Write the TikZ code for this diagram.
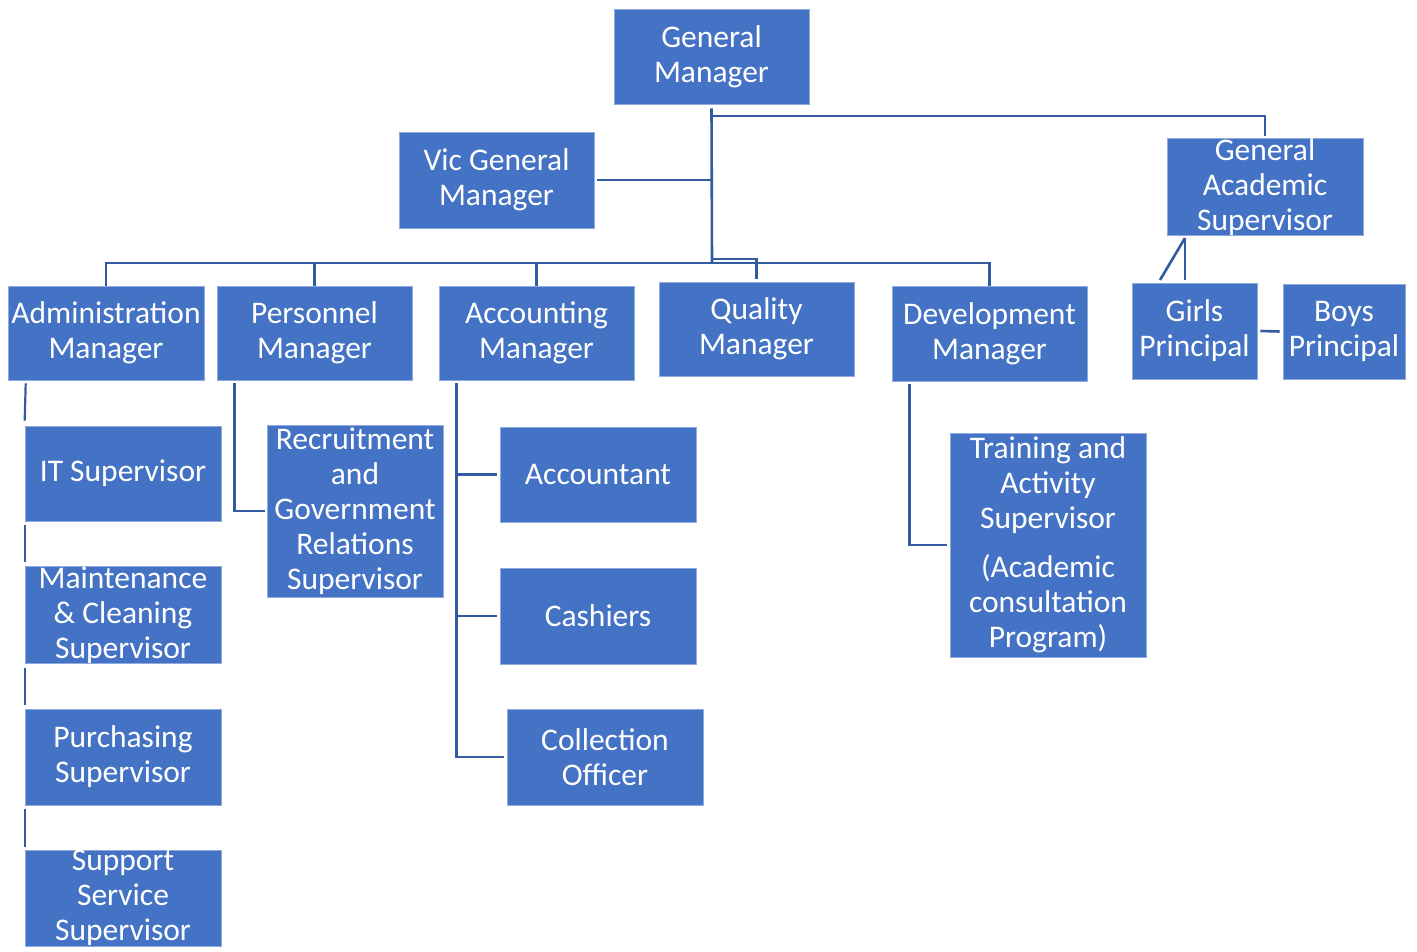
\documentclass[tikz,border=0pt]{standalone}
\usepackage{fontspec}
\setmainfont{Carlito}
\definecolor{boxblue}{HTML}{4472C4}
\definecolor{linkblue}{RGB}{52,90,160}
\begin{document}
\begin{tikzpicture}[x=1pt,y=-1pt,
  box/.style={fill=boxblue, draw=boxblue!60!white, line width=0.6pt, text=white, align=center,
    inner sep=0pt, font=\fontsize{31.5}{35}\selectfont},
  conn/.style={draw=linkblue, line width=2.6pt}]
\useasboundingbox (0,0) rectangle (1417,951);

% nodes
\node[box, minimum width=195, minimum height=95] (gm) at (711.5,56.5) {General\\Manager};
\node[box, minimum width=195, minimum height=96] (vgm) at (496.5,180) {Vic General\\Manager};
\node[box, minimum width=196, minimum height=96] (gas) at (1265,187) {General\\Academic\\Supervisor};
\node[box, minimum width=196, minimum height=94] (admin) at (106,333) {Administration\\Manager};
\node[box, minimum width=195, minimum height=94] (pers) at (314.5,333) {Personnel\\Manager};
\node[box, minimum width=195, minimum height=94] (acct) at (536.5,333) {Accounting\\Manager};
\node[box, minimum width=195, minimum height=94] (qual) at (756.5,329) {Quality\\Manager};
\node[box, minimum width=195, minimum height=95] (dev) at (989.5,333.5) {Development\\Manager};
\node[box, minimum width=125, minimum height=96] (girls) at (1194.5,331) {Girls\\Principal};
\node[box, minimum width=122, minimum height=95] (boys) at (1344,331.5) {Boys\\Principal};
\node[box, minimum width=196, minimum height=95] (it) at (123,473.5) {IT Supervisor};
\node[box, minimum width=196, minimum height=96] (maint) at (123,615) {Maintenance\\\& Cleaning\\Supervisor};
\node[box, minimum width=196, minimum height=96] (purch) at (123,757) {Purchasing\\Supervisor};
\node[box, minimum width=196, minimum height=96] (supp) at (123,898) {Support\\Service\\Supervisor};
\node[box, minimum width=176, minimum height=172] (recr) at (355,511) {Recruitment\\and\\Government\\Relations\\Supervisor};
\node[box, minimum width=196, minimum height=95] (accnt) at (598,474.5) {Accountant};
\node[box, minimum width=196, minimum height=96] (cash) at (598,616) {Cashiers};
\node[box, minimum width=196, minimum height=96] (coll) at (605,757) {Collection\\Officer};
\node[box, minimum width=196, minimum height=224] (train) at (1048,545) {Training and\\Activity\\Supervisor\\[14pt](Academic\\consultation\\Program)};

% junction coordinates
\coordinate (gmtop) at (712,116);
\coordinate (busL) at (106,263);
\coordinate (busM) at (712,263);
\coordinate (busR) at (989.5,263);
\coordinate (qj) at (712,259);
\coordinate (gj) at (1185,238);
\coordinate (gd) at (1160,280);

% top connectors
\draw[conn] ([yshift=-4pt]gm.south) -- (busM);
\draw[conn] (gmtop) -| ([yshift=2pt]gas.north);
\draw[conn] ([xshift=3pt]vgm.east) -- (vgm.east -| busM);
\draw[conn] (busM) -- (busL) -- (admin.north);
\draw[conn] (pers.north) -- (pers.north |- busM);
\draw[conn] (acct.north) -- (acct.north |- busM);
\draw[conn] (busM) -- (busR) -- (dev.north);
\draw[conn] (qj) -| ([yshift=3pt]qual.north);

% GAS to principals
\draw[conn] (gj) -- ([yshift=3pt]gj |- girls.north);
\draw[conn] (gj) -- (gd);
\draw[conn] ([xshift=3pt]girls.east) -- ([xshift=-3pt]boys.west);

% admin chain
\draw[conn, line width=2.2pt] ([xshift=18pt,yshift=-3pt]admin.south west) -- ([yshift=5pt]it.north west);
\draw[conn, line width=2.2pt] ([yshift=-4pt]it.south west) -- ([yshift=4pt]maint.north west);
\draw[conn, line width=2.2pt] ([yshift=-4pt]maint.south west) -- ([yshift=4pt]purch.north west);
\draw[conn, line width=2.2pt] ([yshift=-4pt]purch.south west) -- ([yshift=3pt]supp.north west);

% personnel
\draw[conn] ([xshift=18pt,yshift=-3pt]pers.south west) |- ([xshift=-2pt]recr.west);

% accounting
\draw[conn] ([xshift=18pt,yshift=-3pt]acct.south west) |- ([xshift=-3pt]accnt.west);
\draw[conn] ([xshift=18pt,yshift=-3pt]acct.south west) |- ([xshift=-3pt]cash.west);
\draw[conn] ([xshift=18pt,yshift=-3pt]acct.south west) |- ([xshift=-3pt]coll.west);

% development
\draw[conn] ([xshift=18pt,yshift=-3pt]dev.south west) |- ([xshift=-3pt]train.west);
\end{tikzpicture}
\end{document}
